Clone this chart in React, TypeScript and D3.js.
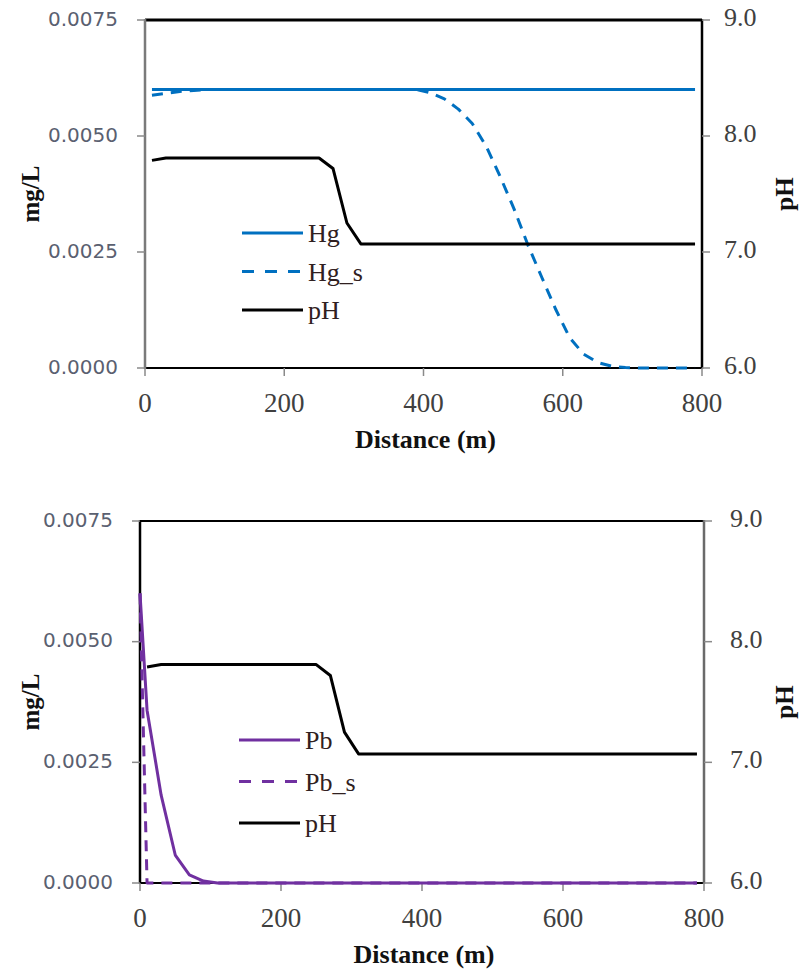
import React from "react";
import * as d3 from "d3";

// ---------- data ----------
const distance = [10, 30, 50, 70, 90, 110, 130, 150, 170, 190, 210, 230, 250, 270, 290, 310, 330, 350, 370, 390,
  410, 430, 450, 470, 490, 510, 530, 550, 570, 590, 610, 630, 650, 670, 690, 710, 730, 750, 770, 790];

const pH = [7.79, 7.81, 7.81, 7.81, 7.81, 7.81, 7.81, 7.81, 7.81, 7.81, 7.81, 7.81, 7.81, 7.72, 7.25, 7.07,
  7.07, 7.07, 7.07, 7.07, 7.07, 7.07, 7.07, 7.07, 7.07, 7.07, 7.07, 7.07, 7.07, 7.07, 7.07, 7.07, 7.07, 7.07,
  7.07, 7.07, 7.07, 7.07, 7.07, 7.07];

const hg = [0.006, 0.006, 0.006, 0.006, 0.006, 0.006, 0.006, 0.006, 0.006, 0.006, 0.006, 0.006, 0.006, 0.006,
  0.006, 0.006, 0.006, 0.006, 0.006, 0.006, 0.006, 0.006, 0.006, 0.006, 0.006, 0.006, 0.006, 0.006, 0.006,
  0.006, 0.006, 0.006, 0.006, 0.006, 0.006, 0.006, 0.006, 0.006, 0.006, 0.006];

const hgS = [0.00588, 0.00592, 0.00596, 0.00598, 0.006, 0.006, 0.006, 0.006, 0.006, 0.006, 0.006, 0.006, 0.006,
  0.006, 0.006, 0.006, 0.006, 0.006, 0.006, 0.006, 0.00593, 0.0058, 0.00558, 0.00527, 0.00478, 0.00413,
  0.00343, 0.00265, 0.00195, 0.00126, 0.00065, 0.0003, 0.00012, 0.00004, 0.00001, 0, 0, 0, 0, 0];

const pbDistance = [0, 10, 30, 50, 70, 90, 110, 130, 150, 170, 190, 210, 230, 250, 270, 290, 310, 330, 350, 370,
  390, 410, 430, 450, 470, 490, 510, 530, 550, 570, 590, 610, 630, 650, 670, 690, 710, 730, 750, 770, 790];

const pb = [0.006, 0.00358, 0.00182, 0.00058, 0.00017, 0.00004, 0, 0, 0, 0, 0, 0, 0, 0, 0, 0, 0, 0, 0, 0, 0, 0,
  0, 0, 0, 0, 0, 0, 0, 0, 0, 0, 0, 0, 0, 0, 0, 0, 0, 0, 0];

const pbS = [0.006, 0, 0, 0, 0, 0, 0, 0, 0, 0, 0, 0, 0, 0, 0, 0, 0, 0, 0, 0, 0, 0, 0, 0, 0, 0, 0, 0, 0, 0, 0, 0,
  0, 0, 0, 0, 0, 0, 0, 0, 0];

const xTicks = [0, 200, 400, 600, 800];
const leftTicks = [0, 0.0025, 0.005, 0.0075];
const rightTicks = [6, 7, 8, 9];

const HG_COLOR = "#0070c0";
const PB_COLOR = "#7030a0";

type Series = { name: string; x: number[]; y: number[]; color: string; dashed: boolean; axis: "left" | "right" };

const topSeries: Series[] = [
  { name: "Hg", x: distance, y: hg, color: HG_COLOR, dashed: false, axis: "left" },
  { name: "Hg_s", x: distance, y: hgS, color: HG_COLOR, dashed: true, axis: "left" },
  { name: "pH", x: distance, y: pH, color: "#000000", dashed: false, axis: "right" },
];
const bottomSeries: Series[] = [
  { name: "Pb", x: pbDistance, y: pb, color: PB_COLOR, dashed: false, axis: "left" },
  { name: "Pb_s", x: pbDistance, y: pbS, color: PB_COLOR, dashed: true, axis: "left" },
  { name: "pH", x: distance, y: pH, color: "#000000", dashed: false, axis: "right" },
];

type Layout = {
  left: number; right: number; top: number; bottom: number;
  topBorder: number; leftAxisColor: string; rightAxisColor: string;
  legendX: number; legendY: number; legendGap: number;
  leftLabelGap: number; rightLabelGap: number; titleY: number;
};

const SERIF = "'Liberation Serif', 'Times New Roman', serif";
const SANS = "'DejaVu Sans', sans-serif";

function Panel({ series, L }: { series: Series[]; L: Layout }) {
  const x = d3.scaleLinear().domain([0, 800]).range([L.left, L.right]);
  const yL = d3.scaleLinear().domain([0, 0.0075]).range([L.bottom, L.top]);
  const yR = d3.scaleLinear().domain([6, 9]).range([L.bottom, L.top]);
  const midY = (L.top + L.bottom) / 2;
  const midX = (L.left + L.right) / 2;

  return (
    <g>
      {/* axes frame */}
      <line x1={L.left} x2={L.right} y1={L.top} y2={L.top} stroke="#000" strokeWidth={L.topBorder} />
      <line x1={L.left} x2={L.right} y1={L.bottom} y2={L.bottom} stroke="#000" strokeWidth={2} />
      <line x1={L.left} x2={L.left} y1={L.top - 1} y2={L.bottom + 1} stroke={L.leftAxisColor} strokeWidth={2.5} />
      <line x1={L.right} x2={L.right} y1={L.top - 1} y2={L.bottom + 1} stroke={L.rightAxisColor} strokeWidth={2.5} />

      {/* left ticks */}
      {leftTicks.map((t) => (
        <g key={"l" + t}>
          <line x1={L.left - 8} x2={L.left} y1={yL(t)} y2={yL(t)} stroke="#8a8a8a" strokeWidth={1.5} />
          <text x={L.left - L.leftLabelGap} y={yL(t)} textAnchor="end" dominantBaseline="middle"
            fontFamily={SANS} fontSize={20} fill="#5a6070">{d3.format(".4f")(t)}</text>
        </g>
      ))}
      {/* right ticks */}
      {rightTicks.map((t) => (
        <g key={"r" + t}>
          <line x1={L.right} x2={L.right + 8} y1={yR(t)} y2={yR(t)} stroke="#8a8a8a" strokeWidth={1.5} />
          <text x={L.right + L.rightLabelGap} y={yR(t)} textAnchor="start" dominantBaseline="middle"
            fontFamily={SERIF} fontSize={26} fill="#404040">{d3.format(".1f")(t)}</text>
        </g>
      ))}
      {/* x ticks */}
      {xTicks.map((t) => (
        <g key={"x" + t}>
          <line x1={x(t)} x2={x(t)} y1={L.bottom} y2={L.bottom + 8} stroke="#8a8a8a" strokeWidth={1.5} />
          <text x={x(t)} y={L.bottom + 44} textAnchor="middle" fontFamily={SERIF} fontSize={27} fill="#404040">{t}</text>
        </g>
      ))}

      {/* series */}
      {series.map((s) => {
        const ys = s.axis === "left" ? yL : yR;
        const line = d3.line<number>().x((_, i) => x(s.x[i])).y((v) => ys(v));
        return (
          <path key={s.name} d={line(s.y) || ""} fill="none" stroke={s.color} strokeWidth={3}
            strokeDasharray={s.dashed ? "11,8" : undefined} strokeLinejoin="round" />
        );
      })}

      {/* legend */}
      {series.map((s, i) => {
        const ly = L.legendY + i * L.legendGap;
        return (
          <g key={"lg" + s.name}>
            <line x1={L.legendX} x2={L.legendX + 61} y1={ly} y2={ly} stroke={s.color} strokeWidth={3}
              strokeDasharray={s.dashed ? "12,11" : undefined} />
            <text x={L.legendX + 66} y={ly + 9} fontFamily={SERIF} fontSize={26} fill="#302020">{s.name}</text>
          </g>
        );
      })}

      {/* titles */}
      <text x={midX + 2} y={L.titleY} textAnchor="middle" fontFamily={SERIF} fontWeight="bold" fontSize={26}
        fill="#111">Distance (m)</text>
      <text transform={`translate(39,${midY}) rotate(-90)`} textAnchor="middle" fontFamily={SERIF}
        fontWeight="bold" fontSize={25} fill="#111">mg/L</text>
      <text transform={`translate(793,${midY}) rotate(-90)`} textAnchor="middle" fontFamily={SERIF}
        fontWeight="bold" fontSize={25} fill="#111">pH</text>
    </g>
  );
}

const topLayout: Layout = {
  left: 145, right: 702, top: 20, bottom: 368, topBorder: 3,
  leftAxisColor: "#7a7a7a", rightAxisColor: "#000",
  legendX: 242, legendY: 233, legendGap: 38.5, leftLabelGap: 27, rightLabelGap: 22, titleY: 448,
};
const bottomLayout: Layout = {
  left: 140, right: 704, top: 521, bottom: 883, topBorder: 2,
  leftAxisColor: "#000", rightAxisColor: "#6a6a6a",
  legendX: 239, legendY: 740, legendGap: 41.5, leftLabelGap: 27, rightLabelGap: 26, titleY: 963,
};

export default function App() {
  return (
    <svg width={799} height={971} style={{ position: "absolute", left: 0, top: 0, background: "#fff" }}>
      <rect width={799} height={971} fill="#fff" />
      <Panel series={topSeries} L={topLayout} />
      <Panel series={bottomSeries} L={bottomLayout} />
    </svg>
  );
}
